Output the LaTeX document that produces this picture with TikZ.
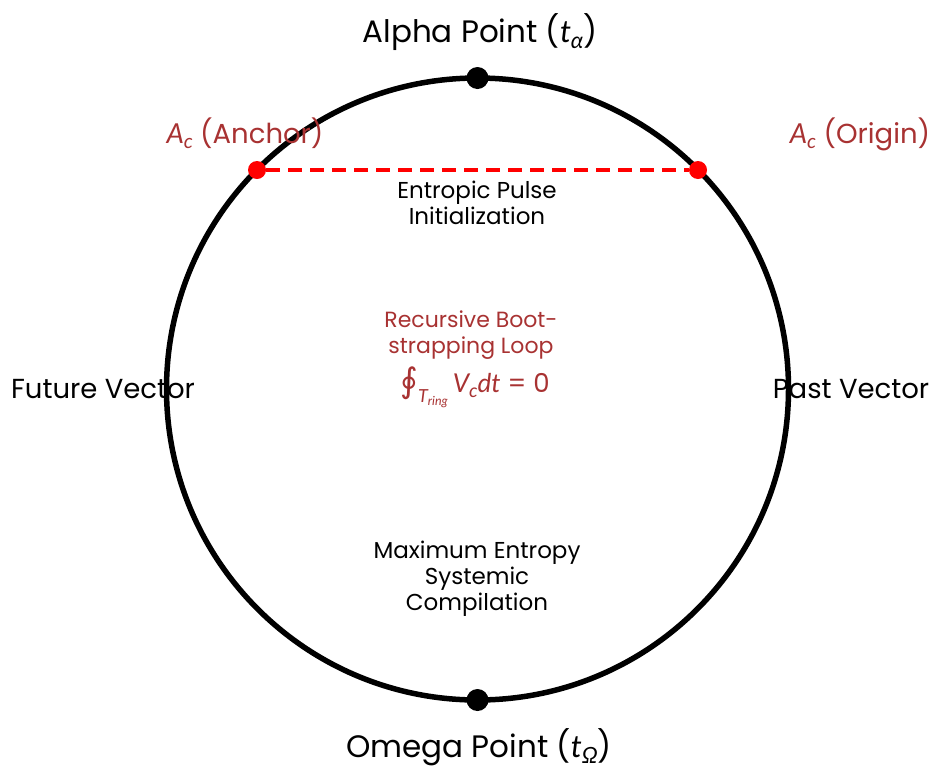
\documentclass[tikz,border=0pt]{standalone}
\usepackage{fontspec}
\setmainfont{Poppins}
\newfontfamily\mfont{Lato}
\newfontfamily\symfont{DejaVu Sans}
\definecolor{labred}{HTML}{A83232}
\definecolor{dotred}{HTML}{FF0000}
\newcommand{\mv}[1]{{\mfont\itshape #1}}
\newcommand{\sbs}[1]{\raisebox{-0.2em}{\scalebox{0.72}{\mv{#1}}}}
\tikzset{
  ring/.style={draw=black, line width=5.5pt},
  blackdot/.style={circle, fill=black, inner sep=0pt, minimum size=22pt},
  reddot/.style={circle, fill=dotred, inner sep=0pt, minimum size=18pt},
  chord/.style={draw=dotred, line width=4.5pt, dash pattern=on 14pt off 8pt},
  biglabel/.style={font=\fontsize{31}{36}\selectfont, anchor=base, inner sep=0pt},
  sidelabel/.style={font=\fontsize{27.5}{32}\selectfont, anchor=base, inner sep=0pt},
  redlabel/.style={font=\fontsize{27.5}{32}\selectfont, text=labred, anchor=base, inner sep=0pt},
  inlabel/.style={font=\fontsize{23}{26}\selectfont, align=center, anchor=base, inner sep=0pt},
}
\begin{document}
\begin{tikzpicture}[x=1pt,y=-1pt]
\useasboundingbox (0,0) rectangle (934,769);
\coordinate (c) at (477.5,389);
\draw[ring] (c) circle[radius=311pt];
\node[blackdot] (alpha) at (477.5,78) {};
\node[blackdot] (omega) at (477.5,700) {};
\node[reddot] (anchor) at (257,170) {};
\node[reddot] (origin) at (698,170) {};
\draw[chord] (anchor) -- (origin);
\node[biglabel] (alphalab) at (480,42) {Alpha Point (\mv{t}\sbs{α})};
\node[biglabel] (omegalab) at (479,757) {Omega Point (\mv{t}\sbs{Ω})};
\node[redlabel] (anchorlab) at (245,143) {\mv{A}\sbs{c} (Anchor)};
\node[redlabel] (originlab) at (860,143) {\mv{A}\sbs{c} (Origin)};
\node[sidelabel] (future) at (103,398) {Future Vector};
\node[sidelabel] (past) at (851,398) {Past Vector};
\node[inlabel] (pulse) at (477,224) {Entropic Pulse\\Initialization};
\node[inlabel, text=labred, font=\fontsize{22}{26}\selectfont] (loop) at (471,353) {Recursive Boot-\\strapping Loop};
\node[anchor=base, inner sep=0pt, text=labred, font=\fontsize{26}{30}\selectfont] (formula) at (475,392)
  {{\symfont\fontsize{34}{34}\selectfont ∮}\raisebox{-10pt}{\fontsize{18}{18}\selectfont\mv{T}\raisebox{-3pt}{\fontsize{12.5}{12.5}\selectfont\mv{ring}}}\hspace{5pt}\mv{V}\sbs{c}\mv{dt} = 0};
\node[inlabel] (maxent) at (477,610) {Maximum Entropy\\Systemic\\Compilation};
\end{tikzpicture}
\end{document}
